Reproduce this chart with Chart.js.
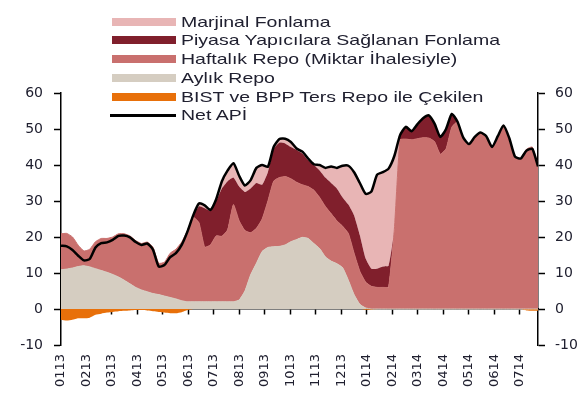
<!DOCTYPE html>
<html>
<head>
<meta charset="utf-8">
<script src="https://cdn.jsdelivr.net/npm/chart.js@4/dist/chart.umd.min.js"></script>
<style>
    body { margin: 0; background: #fff; }
    #wrap { position: relative; width: 582px; height: 401px; }
    #legend { position: absolute; left: 0; top: 0; }
    .row { position: absolute; left: 0; height: 18px; }
    .swatch { position: absolute; left: 112px; width: 64px; }
    .label {
        position: absolute; left: 181px; white-space: nowrap;
        font: 15px "Liberation Sans", Arial, sans-serif; line-height: 18px; color: #202030;
        transform: scaleX(1.3); transform-origin: left center;
    }
</style>
</head>
<body>
<div id="wrap">
    <canvas id="chart" width="582" height="401"></canvas>
    <div id="legend"></div>
</div>
<script>
// month tick labels (MMYY)
const monthLabels = ['0113', '0213', '0313', '0413', '0513', '0613', '0713', '0813', '0913', '1013',
    '1113', '1213', '0114', '0214', '0314', '0414', '0514', '0614', '0714'];

// weekly values, bn TL (stack components)
const aylik = [10.9, 11.1, 11.4, 11.8, 12.0, 11.7, 11.2, 10.7, 10.2, 9.6,
    8.9, 8.0, 7.0, 6.0, 5.3, 4.8, 4.3, 4.0, 3.6, 3.2,
    2.8, 2.3, 2.0, 2.0, 2.0, 2.0, 2.0, 2.0, 2.0, 2.0,
    2.0, 2.5, 5.0, 9.5, 12.7, 16.0, 17.1, 17.3, 17.4, 17.8,
    18.7, 19.3, 19.9, 19.6, 18.2, 16.8, 14.5, 13.3, 12.6, 11.5,
    8.0, 4.0, 1.3, 0.3, 0, 0, 0, 0, 0, 0,
    0, 0, 0, 0, 0, 0, 0, 0, 0, 0,
    0, 0, 0, 0, 0, 0, 0, 0, 0, 0,
    0, 0, 0, 0];
const haftalik = [10.0, 9.9, 8.6, 5.9, 4.1, 4.9, 7.5, 8.9, 9.4, 10.4,
    12.0, 12.9, 13.3, 13.0, 12.9, 13.8, 12.9, 8.7, 9.4, 12.3,
    13.8, 16.3, 19.8, 23.5, 22.0, 15.2, 15.8, 18.3, 18.2, 20.0,
    27.0, 22.0, 16.8, 11.7, 9.7, 9.0, 12.9, 18.2, 19.1, 19.0,
    17.5, 15.9, 14.6, 14.4, 14.8, 14.2, 14.0, 13.2, 11.9, 11.5,
    13.0, 11.5, 9.2, 7.2, 6.3, 6.0, 6.0, 6.1, 22.0, 47.0,
    47.2, 47.0, 47.3, 47.6, 47.5, 46.5, 43.0, 44.5, 50.5, 52.0,
    47.6, 45.8, 47.8, 49.0, 48.0, 45.0, 48.0, 51.0, 47.5, 42.3,
    41.8, 44.4, 45.0, 40.1];
const piyasa = [0, 0, 0, 0, 0, 0, 0, 0, 0, 0,
    0, 0, 0, 0, 0, 0, 0, 0, 0, 0,
    0, 0, 0, 0.5, 4.5, 10.8, 9.5, 9.7, 13.3, 13.5,
    7.5, 9.5, 10.7, 12.3, 12.6, 9.5, 8.0, 9.0, 9.7, 9.2,
    8.8, 9.0, 8.7, 7.3, 7.0, 7.5, 8.0, 8.5, 9.0, 8.0,
    8.0, 10.5, 10.0, 6.5, 4.9, 5.2, 5.8, 5.9, 0, 1.3,
    3.4, 2.4, 4.0, 5.4, 6.3, 5.0, 4.8, 5.5, 3.7, 0,
    0, 0, 0, 0, 0, 0, 0, 0, 0, 0,
    0, 0, 0, 0];
const marjinal = [0, 0, 0, 0, 0, 0, 0, 0, 0, 0,
    0, 0, 0, 0, 0, 0, 0, 0, 0, 0,
    0, 0, 0, 0, 0.8, 0.8, 0.2, 0.5, 2.0, 3.0,
    4.0, 3.0, 1.8, 2.3, 4.2, 5.5, 1.5, 0.5, 1.0, 1.3,
    1.4, 0.4, 0.5, 0.5, 0.2, 1.5, 2.7, 4.6, 5.7, 8.8,
    10.8, 12.0, 14.5, 18.2, 21.6, 26.1, 26.2, 27.0, 20.5, 0,
    0, 0, 0, 0, 0, 0, 0, 0, 0, 0,
    0, 0, 0, 0, 0, 0, 0, 0, 0, 0,
    0, 0, 0, 0];
const bist = [-3.0, -3.2, -3.0, -2.6, -2.6, -2.4, -1.6, -1.3, -1.0, -0.8,
    -0.6, -0.5, -0.4, -0.3, -0.3, -0.4, -0.6, -0.8, -1.0, -1.2,
    -1.2, -0.9, -0.3, 0, 0, 0, 0, 0, 0, 0,
    0, 0, 0, 0, 0, 0, 0, 0, 0, 0,
    0, 0, 0, 0, 0, 0, 0, 0, 0, 0,
    0, 0, 0, -0.2, -0.2, 0, 0, 0, 0, 0,
    0, 0, 0, 0, 0, 0, 0, 0, 0, 0,
    0, 0, 0, 0, 0, 0, 0, 0, 0, 0,
    0, -0.4, -0.5, -0.5];
const netApi = [17.6, 17.4, 16.4, 14.8, 13.5, 13.9, 17.1, 18.3, 18.5, 19.2,
    20.3, 20.4, 19.9, 18.6, 17.8, 18.2, 16.5, 11.8, 12.2, 14.4,
    15.5, 17.8, 21.5, 26.0, 29.3, 28.8, 27.5, 30.5, 35.5, 38.5,
    40.5, 37.0, 34.3, 35.8, 39.2, 40.0, 39.5, 45.0, 47.2, 47.3,
    46.4, 44.6, 43.7, 41.8, 40.2, 40.0, 39.2, 39.6, 39.2, 39.8,
    39.8, 38.0, 35.0, 32.0, 32.6, 37.3, 38.0, 39.0, 42.5, 48.3,
    50.6, 49.4, 51.3, 53.0, 53.8, 51.5, 47.8, 50.0, 54.2, 52.0,
    47.6, 45.8, 47.8, 49.0, 48.0, 45.0, 48.0, 51.0, 47.5, 42.3,
    41.8, 44.0, 44.5, 39.6];

const X_SPAN = 18.72; // months covered by the weekly series
const WEEK = X_SPAN / (netApi.length - 1);
const pts = arr => arr.map((v, i) => ({ x: i * WEEK, y: v }));

const series = [
    { name: 'Marjinal Fonlama', color: '#e8b5b5' },
    { name: 'Piyasa Yapıcılara Sağlanan Fonlama', color: '#801f2c' },
    { name: 'Haftalık Repo (Miktar İhalesiyle)', color: '#c9706e' },
    { name: 'Aylık Repo', color: '#d5cdc1' },
    { name: 'BIST ve BPP Ters Repo ile Çekilen', color: '#e8700a' },
    { name: 'Net APİ', color: '#000000', line: true }
];
const col = name => series.find(s => s.name === name).color;

// legend
const legend = document.getElementById('legend');
series.forEach((s, k) => {
    const cy = 21.5 + k * 18.75;
    const h = s.line ? 3 : 8;
    legend.innerHTML += `
        <div class="swatch" style="top:${cy - h / 2}px;height:${h}px;background:${s.color};${s.line ? 'left:110px;width:66px;' : ''}"></div>
        <div class="label" style="top:${cy - 9}px">${s.name}</div>`;
});

const area = (label, data, fill, extra) => Object.assign({
    label, data: pts(data), fill, stack: 'funding',
    backgroundColor: col(label), borderColor: col(label), borderWidth: 0,
    pointRadius: 0, tension: 0.15
}, extra || {});

const tickFont = { family: 'DejaVu Sans', size: 14 };
const monthTicks = scale => { scale.ticks = monthLabels.map((_, k) => ({ value: k })); };

new Chart(document.getElementById('chart'), {
    type: 'line',
    data: {
        datasets: [
            area('Aylık Repo', aylik, 'origin', { borderWidth: 1 }),
            area('Haftalık Repo (Miktar İhalesiyle)', haftalik, '-1', { borderWidth: 1 }),
            area('Piyasa Yapıcılara Sağlanan Fonlama', piyasa, '-1'),
            area('Marjinal Fonlama', marjinal, '-1'),
            area('BIST ve BPP Ters Repo ile Çekilen', bist, 'origin', { stack: 'bist' }),
            {
                label: 'Net APİ', data: pts(netApi), stack: 'net', order: -1, fill: false,
                borderColor: '#000', borderWidth: 2.5, pointRadius: 0, tension: 0.2
            }
        ]
    },
    options: {
        responsive: false,
        animation: false,
        devicePixelRatio: 1,
        layout: { padding: { top: 93, bottom: 0, left: 0, right: 0 } },
        plugins: { legend: { display: false }, tooltip: { enabled: false } },
        scales: {
            x: {
                type: 'linear', min: 0, max: X_SPAN, position: { y: 0 },
                afterBuildTicks: monthTicks,
                ticks: { display: false },
                grid: { drawOnChartArea: false, tickLength: 5, color: '#000', tickWidth: 1.5 },
                border: { color: '#000', width: 1.5 }
            },
            xl: {
                type: 'linear', min: 0, max: X_SPAN, position: 'bottom',
                afterBuildTicks: monthTicks,
                afterFit: s => { s.height = 56; },
                grid: { display: false, drawTicks: false },
                border: { display: false },
                ticks: {
                    autoSkip: false, minRotation: 90, maxRotation: 90, padding: 9,
                    font: { family: 'DejaVu Sans', size: 13 }, color: '#202030',
                    callback: v => monthLabels[v] ?? ''
                }
            },
            y: {
                min: -10, max: 60, stacked: true, position: 'left',
                afterFit: s => { s.width = 61; },
                ticks: { stepSize: 10, padding: 11, font: tickFont, color: '#202030' },
                grid: { drawOnChartArea: false, tickLength: 7, color: '#000', tickWidth: 1.5 },
                border: { color: '#000', width: 1.5 }
            },
            y2: {
                min: -10, max: 60, position: 'right',
                afterFit: s => { s.width = 44; },
                ticks: { stepSize: 10, padding: 10, font: tickFont, color: '#202030' },
                grid: { drawOnChartArea: false, tickLength: 7, color: '#000', tickWidth: 1.5 },
                border: { color: '#000', width: 1.5 }
            }
        }
    }
});
</script>
</body>
</html>
